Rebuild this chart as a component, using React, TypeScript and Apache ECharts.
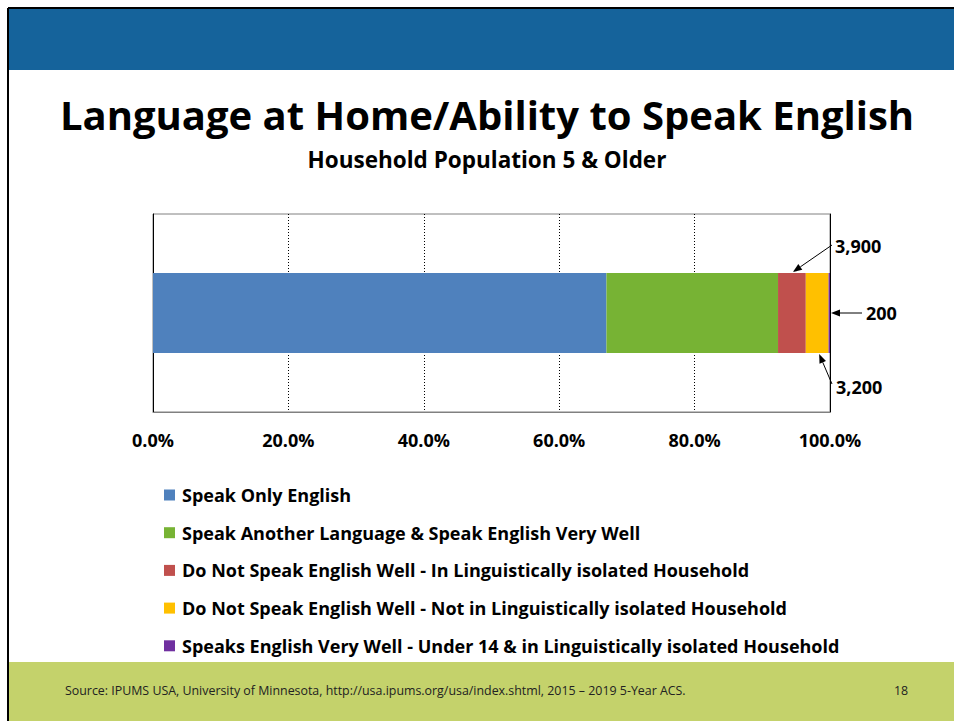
import React, { useEffect, useRef } from "react";
import * as echarts from "echarts";

const categories = ["Household Population 5 & Older"];
const seriesNames = [
  "Speak Only English",
  "Speak Another Language & Speak English Very Well",
  "Do Not Speak English Well - In Linguistically isolated Household",
  "Do Not Speak English Well - Not in Linguistically isolated Household",
  "Speaks English Very Well - Under 14 & in Linguistically isolated Household",
];
const seriesCounts = [63700, 24100, 3900, 3200, 200];
const seriesColors = ["#4F81BD", "#77B334", "#C0504D", "#FFC000", "#7030A0"];
const xTicks = [0, 20, 40, 60, 80, 100];
const annotationLabels = ["3,900", "200", "3,200"];

const FONT = "'Open Sans', Lato, sans-serif";

export default function App() {
  const ref = useRef<HTMLDivElement>(null);
  useEffect(() => {
    if (!ref.current) return;
    const chart = echarts.init(ref.current, undefined, { renderer: "svg" });
    const total = seriesCounts.reduce((a, b) => a + b, 0);
    const pct = seriesCounts.map((v) => (v / total) * 100);
    const barWidth = 80;

    chart.setOption({
      animation: false,
      backgroundColor: "#ffffff",
      textStyle: { fontFamily: FONT },
      grid: {
        left: 153,
        top: 214,
        width: 677,
        height: 198,
        show: true,
        borderColor: "#808080",
        borderWidth: 1,
        containLabel: false,
      },
      legend: {
        orient: "vertical",
        left: 164,
        top: 486,
        padding: 0,
        icon: "rect",
        itemWidth: 11,
        itemHeight: 11,
        itemGap: 19.7,
        selectedMode: false,
        textStyle: { fontSize: 18, fontWeight: "bold", color: "#000", fontFamily: FONT, padding: [0, 0, 0, 2] },
        data: seriesNames,
      },
      xAxis: {
        type: "value",
        min: 0,
        max: 100,
        interval: 20,
        axisLine: { show: true, lineStyle: { color: "#808080" } },
        axisTick: { show: false },
        axisLabel: {
          margin: 19,
          fontSize: 18,
          fontWeight: "bold",
          color: "#000",
          fontFamily: FONT,
          formatter: (v: number) => (xTicks.includes(v) ? v.toFixed(1) + "%" : ""),
        },
        splitLine: { show: true, lineStyle: { color: "#000", type: [1, 2], width: 1 } },
      },
      yAxis: [
        {
          type: "category",
          data: categories,
          axisLine: { show: true, lineStyle: { color: "#000" } },
          axisTick: { show: false },
          axisLabel: { show: false },
        },
        {
          type: "category",
          position: "right",
          data: categories,
          axisLine: { show: true, lineStyle: { color: "#000" } },
          axisTick: { show: false },
          axisLabel: { show: false },
        },
      ],
      series: seriesNames.map((name, i) => ({
        name,
        type: "bar",
        stack: "total",
        barWidth,
        data: [pct[i]],
        itemStyle: { color: seriesColors[i] },
      })),
    });

    const cum: number[] = [];
    pct.reduce((acc, v) => {
      cum.push(acc + v);
      return acc + v;
    }, 0);
    const redMid = (cum[1] + cum[2]) / 2;
    const yellowMid = (cum[2] + cum[3]) / 2;
    const purpleEnd = cum[4];

    const centerY = (chart.convertToPixel({ gridIndex: 0 }, [0, categories[0]]) as number[])[1];
    const barTop = centerY - barWidth / 2;
    const barBottom = centerY + barWidth / 2;
    const px = (v: number) => (chart.convertToPixel({ gridIndex: 0 }, [v, categories[0]]) as number[])[0];
    const rightEdge = px(100);

    const heads = [
      [px(redMid) + 1, barTop - 1],
      [px(purpleEnd) + 1, centerY],
      [px(yellowMid) + 2, barBottom + 1],
    ];
    const tails = [
      [rightEdge + 2, barTop - 28],
      [rightEdge + 32, centerY],
      [rightEdge + 2, barBottom + 31],
    ];
    const labelPos = [
      [rightEdge + 5, barTop - 27, "left"],
      [rightEdge + 36, centerY, "left"],
      [rightEdge + 6, barBottom + 34, "left"],
    ];

    const arrowEls: any[] = [];
    heads.forEach((h, i) => {
      const t = tails[i];
      const dx = h[0] - t[0];
      const dy = h[1] - t[1];
      const len = Math.sqrt(dx * dx + dy * dy);
      const ux = dx / len;
      const uy = dy / len;
      const hl = 9;
      const hw = 3.5;
      const bx = h[0] - ux * hl;
      const by = h[1] - uy * hl;
      arrowEls.push({
        type: "line",
        shape: { x1: t[0], y1: t[1], x2: bx, y2: by },
        style: { stroke: "#000", lineWidth: 1 },
        z: 100,
      });
      arrowEls.push({
        type: "polygon",
        shape: {
          points: [
            [h[0], h[1]],
            [bx - uy * hw, by + ux * hw],
            [bx + uy * hw, by - ux * hw],
          ],
        },
        style: { fill: "#000" },
        z: 100,
      });
      const lp = labelPos[i];
      arrowEls.push({
        type: "text",
        x: lp[0],
        y: lp[1],
        style: {
          text: annotationLabels[i],
          fontSize: 18,
          fontWeight: "bold",
          fontFamily: FONT,
          fill: "#000",
          textAlign: lp[2],
          textVerticalAlign: "middle",
        },
        z: 100,
      });
    });

    chart.setOption({
      graphic: [
        { type: "rect", shape: { x: 9, y: 9, width: 945, height: 61 }, style: { fill: "#15639B" }, z: -10 },
        { type: "rect", shape: { x: 9, y: 662, width: 945, height: 59 }, style: { fill: "#C4D26B" }, z: -10 },
        { type: "line", shape: { x1: 8, y1: 8, x2: 954, y2: 8 }, style: { stroke: "#000", lineWidth: 2 }, z: -5 },
        { type: "line", shape: { x1: 8, y1: 8, x2: 8, y2: 721 }, style: { stroke: "#000", lineWidth: 2 }, z: -5 },
        {
          type: "text",
          x: 487,
          y: 114,
          style: {
            text: "Language at Home/Ability to Speak English",
            fontSize: 40,
            fontWeight: "bold",
            fontFamily: FONT,
            fill: "#000",
            textAlign: "center",
            textVerticalAlign: "middle",
          },
        },
        {
          type: "text",
          x: 487,
          y: 159,
          style: {
            text: "Household Population 5 & Older",
            fontSize: 22.5,
            fontWeight: "bold",
            fontFamily: FONT,
            fill: "#000",
            textAlign: "center",
            textVerticalAlign: "middle",
          },
        },
        {
          type: "text",
          x: 65,
          y: 690,
          style: {
            text: "Source: IPUMS USA, University of Minnesota, http://usa.ipums.org/usa/index.shtml, 2015 \u2013 2019 5-Year ACS.",
            fontSize: 12.4,
            fontFamily: FONT,
            fill: "#222",
            textAlign: "left",
            textVerticalAlign: "middle",
          },
        },
        {
          type: "text",
          x: 901,
          y: 690,
          style: {
            text: "18",
            fontSize: 12.4,
            fontFamily: FONT,
            fill: "#222",
            textAlign: "center",
            textVerticalAlign: "middle",
          },
        },
        ...arrowEls,
      ],
    });

    return () => chart.dispose();
  }, []);

  return (
    <div
      ref={ref}
      style={{ position: "fixed", left: 0, top: 0, width: 954, height: 721, background: "#fff" }}
    />
  );
}
